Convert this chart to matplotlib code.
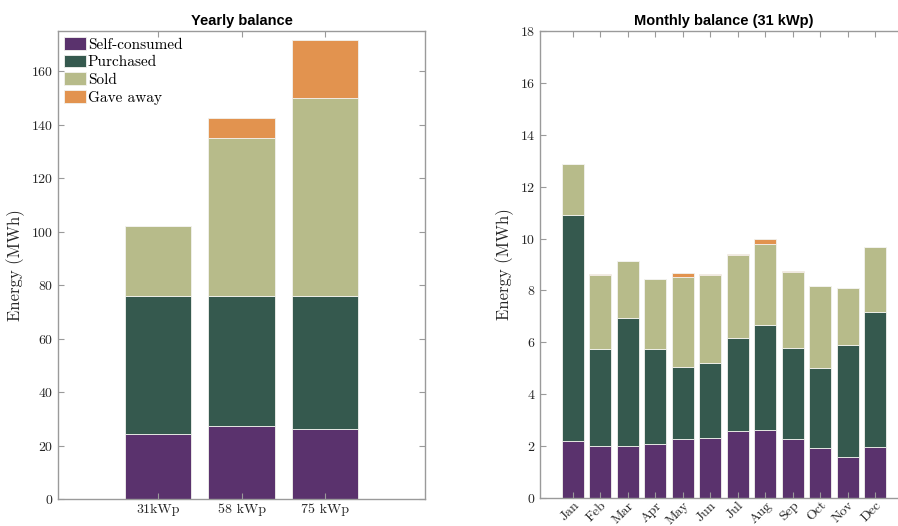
import matplotlib
matplotlib.use("Agg")
import matplotlib.pyplot as plt
import numpy as np

# yearly totals per installation size (MWh)
systems = ["31kWp", "58 kWp", "75 kWp"]
year_self = [24.4, 27.4, 26.0]
year_purchased = [51.6, 48.6, 50.0]
year_sold = [26.0, 59.0, 74.0]
year_gave = [0.0, 7.5, 21.5]

# monthly balance for the 31 kWp system (MWh)
months = ["Jan", "Feb", "Mar", "Apr", "May", "Jun",
          "Jul", "Aug", "Sep", "Oct", "Nov", "Dec"]
mon_self = [2.19, 2.01, 2.02, 2.10, 2.28, 2.31, 2.58, 2.63, 2.27, 1.92, 1.59, 1.95]
mon_purchased = [8.73, 3.74, 4.90, 3.65, 2.77, 2.91, 3.57, 4.03, 3.53, 3.10, 4.31, 5.22]
mon_sold = [1.94, 2.84, 2.22, 2.70, 3.48, 3.37, 3.22, 3.12, 2.93, 3.15, 2.19, 2.50]
mon_gave = [0.0, 0.05, 0.0, 0.0, 0.15, 0.05, 0.05, 0.19, 0.03, 0.0, 0.0, 0.0]

labels = ["Self-consumed", "Purchased", "Sold", "Gave away"]
colors = ["#5a326d", "#35594e", "#b7bb8a", "#e2934f"]

plt.rcParams["font.family"] = ["cmr10", "DejaVu Serif"]
plt.rcParams["axes.formatter.use_mathtext"] = True
axis_col = "#9a9a9a"
text_col = "#262626"


def stacked(ax, x, series, width=0.8):
    bottom = np.zeros(len(x))
    for vals, col, lab in zip(series, colors, labels):
        ax.bar(x, vals, width, bottom=bottom, color=col, label=lab,
               edgecolor="#f2f2ee", linewidth=0.6)
        bottom += np.array(vals)


def style(ax):
    for s in ax.spines.values():
        s.set_color(axis_col)
        s.set_linewidth(1.0)
    ax.tick_params(direction="in", colors=axis_col, labelcolor=text_col,
                   labelsize=10, length=4, top=True, right=True)
    ax.set_ylabel("Energy (MWh)", fontsize=12, color=text_col)


fig = plt.figure(figsize=(8.98, 5.26), dpi=100)

ax1 = fig.add_axes([58 / 898, 27 / 526, 367 / 898, 468 / 526])
x1 = np.arange(1, len(systems) + 1)
stacked(ax1, x1, [year_self, year_purchased, year_sold, year_gave])
ax1.set_xlim(-0.2, 4.2)
ax1.set_ylim(0, 175)
ax1.set_xticks(x1)
ax1.set_xticklabels(systems)
ax1.set_yticks(np.arange(0, 161, 20))
style(ax1)
ax1.set_title("Yearly balance", fontsize=10.5, fontweight="bold",
              family="Liberation Sans", pad=4)
ax1.legend(loc="upper left", frameon=False, fontsize=11, handlelength=1.45,
           handleheight=0.9, handletextpad=0.1, labelspacing=0.2,
           borderaxespad=0.2, borderpad=0.2)

ax2 = fig.add_axes([540 / 898, 28 / 526, 368 / 898, 467 / 526])
x2 = np.arange(1, len(months) + 1)
stacked(ax2, x2, [mon_self, mon_purchased, mon_sold, mon_gave])
ax2.set_xlim(-0.2, 13.2)
ax2.set_ylim(0, 18)
ax2.set_xticks(x2)
ax2.set_xticklabels(months, rotation=45, ha="right", va="top",
                    rotation_mode="anchor", fontsize=8.5)
ax2.set_yticks(np.arange(0, 19, 2))
style(ax2)
ax2.tick_params(axis="x", pad=1)
ax2.set_title("Monthly balance (31 kWp)", fontsize=10.5, fontweight="bold",
              family="Liberation Sans", pad=4)

fig.savefig("out.png", dpi=100)
